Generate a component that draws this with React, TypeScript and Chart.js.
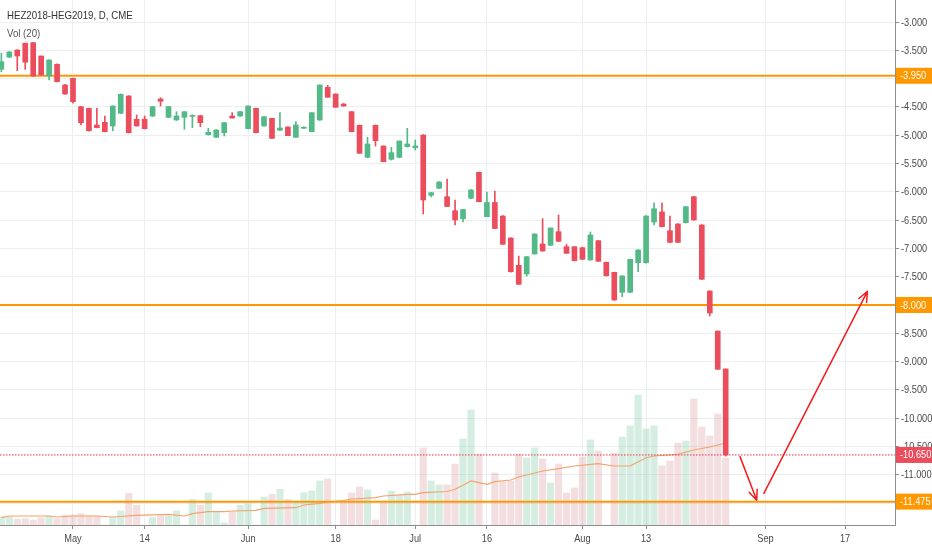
import { useEffect, useRef } from "react";
import { Chart, registerables, type ChartConfiguration, type Plugin } from "chart.js";

Chart.register(...registerables);

// bar index 0 = 1 May 2018, the first bar on screen (-9) is 18 Apr
const firstBar = -9;

const opens = [
  -3.836, -3.62, -3.495, -3.376, -3.365, -3.6, -3.954, -3.747, -4.113, -3.995,
  -4.496, -4.525, -4.82, -4.772, -4.837, -4.613, -4.307, -4.719, -4.719, -4.661,
  -4.36, -4.684, -4.731, -4.684, -4.66, -4.655, -4.991, -5.037, -4.956, -4.661,
  -4.661, -4.885, -4.525, -4.837, -4.701, -4.913, -4.855, -5.037, -4.87, -4.938,
  -4.731, -4.154, -4.272, -4.449, -4.585, -4.825, -5.391, -4.825, -5.191, -5.426,
  -5.391, -5.203, -5.221, -4.996, -6.062, -5.938, -6.087, -6.334, -6.477, -6.115,
  -5.656, -6.44, -6.189, -6.428, -6.817, -7.299, -7.453, -7.099, -6.922, -6.945,
  -6.705, -6.97, -6.97, -6.988, -7.205, -6.864, -7.246, -7.423, -7.776, -7.776,
  -7.253, -7.253, -6.534, -6.357, -6.688, -6.569, -6.546, -6.087, -6.587, -7.753,
  -8.46, -9.131,
];
const highs = [
  -3.55, -3.52, -3.49, -3.37, -3.36, -3.6, -3.67, -3.74, -4.1, -3.99,
  -4.49, -4.52, -4.525, -4.661, -4.48, -4.27, -4.3, -4.643, -4.66, -4.49,
  -4.337, -4.49, -4.585, -4.58, -4.64, -4.65, -4.878, -4.9, -4.77, -4.602,
  -4.58, -4.48, -4.52, -4.67, -4.7, -4.602, -4.85, -4.761, -4.85, -4.6,
  -4.11, -4.118, -4.27, -4.44, -4.58, -4.82, -5.037, -4.82, -5.19, -5.214,
  -5.1, -4.878, -5.085, -4.99, -6.01, -5.82, -5.774, -6.145, -6.31, -5.96,
  -5.65, -6.004, -5.986, -6.42, -6.81, -7.135, -7.14, -6.74, -6.475, -6.64,
  -6.41, -6.93, -6.97, -6.98, -6.71, -6.86, -7.24, -7.42, -7.48, -7.19,
  -7.02, -6.42, -6.193, -6.193, -6.428, -6.56, -6.26, -6.08, -6.58, -7.75,
  -8.46, -9.13,
];
const lows = [
  -3.88, -3.63, -3.86, -3.836, -3.96, -3.94, -4.025, -4.06, -4.28, -4.436,
  -4.82, -4.93, -4.87, -4.94, -4.92, -4.62, -4.96, -4.84, -4.89, -4.67,
  -4.484, -4.69, -4.74, -4.896, -4.867, -4.85, -5.0, -5.04, -5.014, -4.7,
  -4.67, -4.89, -4.96, -4.84, -5.06, -4.92, -5.01, -5.04, -4.88, -4.94,
  -4.74, -4.33, -4.51, -4.49, -4.94, -5.32, -5.4, -5.191, -5.47, -5.44,
  -5.4, -5.21, -5.262, -6.392, -6.09, -5.94, -6.26, -6.587, -6.534, -6.12,
  -6.18, -6.44, -6.65, -6.93, -7.42, -7.64, -7.49, -7.1, -7.05, -6.95,
  -6.88, -7.09, -7.22, -7.2, -7.21, -7.23, -7.49, -7.92, -7.854, -7.78,
  -7.412, -7.26, -6.587, -6.62, -6.9, -6.9, -6.55, -6.5, -7.55, -8.195,
  -9.14, -10.67,
];
const closes = [
  -3.7, -3.53, -3.6, -3.71, -3.954, -3.936, -3.671, -4.055, -4.272, -4.408,
  -4.779, -4.92, -4.867, -4.938, -4.484, -4.277, -4.956, -4.837, -4.885, -4.496,
  -4.401, -4.496, -4.661, -4.585, -4.65, -4.779, -4.949, -4.908, -4.779, -4.696,
  -4.585, -4.484, -4.956, -4.673, -5.055, -4.873, -5.009, -4.82, -4.86, -4.602,
  -4.113, -4.33, -4.507, -4.484, -4.938, -5.32, -5.155, -5.097, -5.468, -5.309,
  -5.102, -5.155, -5.191, -6.145, -6.016, -5.827, -6.26, -6.498, -6.313, -5.968,
  -6.175, -6.189, -6.649, -6.928, -7.412, -7.635, -7.147, -6.746, -7.046, -6.64,
  -6.875, -7.087, -7.218, -7.193, -6.764, -7.228, -7.483, -7.912, -7.488, -7.193,
  -7.029, -6.428, -6.299, -6.617, -6.893, -6.893, -6.263, -6.498, -7.546, -8.142,
  -9.137, -10.65,
];
const volumes = [
  8, 8, 5.7, 6.3, 5, 7.3, 9, 6.3, 9.7, 10,
  11.3, 9, 9, 0, 7.3, 14, 31.7, 19.7, 0, 7.3,
  9, 9, 14, 0, 25.7, 19.7, 32, 13.3, 2.3, 13.3,
  19.7, 21.3, 0, 28, 30.7, 35.7, 25.7, 24, 32.3, 34,
  44, 46, 0, 22, 32, 38, 35, 5, 22, 34,
  30, 33, 0, 77, 44, 40, 40, 61, 86, 115,
  71, 0, 52, 43, 44, 71, 67, 77, 66, 42,
  61, 32, 37, 68, 85, 74, 0, 72, 88, 99,
  130, 96, 99, 59, 64, 82, 84, 126, 98, 89,
  111, 67,
];

// Vol (20) moving average at these bars
const volMaIdx = [
  -9, -8, -3, -2, 0, 3, 5, 8, 12, 14, 15, 17, 19, 20, 23, 24, 28, 29, 31, 32, 34, 35, 38, 39,
  42, 43, 44, 47, 48, 49, 50, 52, 53, 55, 56, 57, 59, 61, 63, 66, 68, 70, 72, 73, 76, 78, 80, 82,
];
const volMa = [
  7.3, 9, 9, 8, 9, 9, 8, 9.7, 10.7, 9, 11.3, 13.3, 13.3, 14, 14.7, 16.7, 17.3, 20, 21.7, 23, 24.5, 26, 27.3, 29,
  30.7, 30.7, 32.3, 33.5, 35.7, 39.7, 44, 40.7, 43.3, 45, 48, 50, 54, 56.3, 59, 61.3, 59, 59, 67.3, 69, 70.7, 75, 78, 82,
];

const xTickIdx = [0, 9, 22, 33, 43, 52, 64, 72, 87, 97];
const xTickLabels = ["May", "14", "Jun", "18", "Jul", "16", "Aug", "13", "Sep", "17"];
const yTickValues = [-3, -3.5, -4, -4.5, -5, -5.5, -6, -6.5, -7, -7.5, -8, -8.5, -9, -9.5, -10, -10.5, -11, -11.5];

const levels = [-3.95, -8.0, -11.475];

const arrowFromIdx = [83.8, 86.8];
const arrowFromPrice = [-10.68, -11.33];
const arrowToIdx = [85.9, 99.8];
const arrowToPrice = [-11.45, -7.76];

const X_MIN = -9.17;
const X_MAX = 103.27;
const Y_MIN = -11.888;
const Y_MAX = -2.611;

const UP = "#53b987";
const DOWN = "#eb4d5c";
const VOL_UP = "rgba(83,185,135,0.24)";
const VOL_DOWN = "rgba(200,110,110,0.22)";
const ORANGE = "#ff9800";
const MA = "#f2a46e";
const GRID = "#eceef2";
const AXIS = "#8f8f8f";
const TEXT = "#4a4a4a";
const FONT = "'Liberation Sans', Arial, sans-serif";
// the screenshot's text is narrower than the installed fonts
const SQUISH = 0.84;

function squishText(ctx: CanvasRenderingContext2D, text: string, x: number, y: number, align: CanvasTextAlign) {
  ctx.save();
  ctx.translate(x, y);
  ctx.scale(SQUISH, 1);
  ctx.textAlign = align;
  ctx.fillText(text, 0, 0);
  ctx.restore();
}

const overlay: Plugin = {
  id: "overlay",
  afterDatasetsDraw(chart) {
    const { ctx, scales } = chart;
    const xs = scales.x;
    const ys = scales.y;
    ctx.save();
    ctx.strokeStyle = "#f21c1c";
    ctx.lineWidth = 1.5;
    ctx.lineCap = "round";
    arrowFromIdx.forEach((_, i) => {
      const x0 = xs.getPixelForValue(arrowFromIdx[i]);
      const y0 = ys.getPixelForValue(arrowFromPrice[i]);
      const x1 = xs.getPixelForValue(arrowToIdx[i]);
      const y1 = ys.getPixelForValue(arrowToPrice[i]);
      const a = Math.atan2(y1 - y0, x1 - x0);
      ctx.beginPath();
      ctx.moveTo(x0, y0);
      ctx.lineTo(x1, y1);
      for (const d of [-0.4, 0.4]) {
        ctx.moveTo(x1, y1);
        ctx.lineTo(x1 - 11 * Math.cos(a + d), y1 - 11 * Math.sin(a + d));
      }
      ctx.stroke();
    });
    ctx.restore();
  },
  afterDraw(chart) {
    const { ctx, chartArea, scales } = chart;
    const xs = scales.x;
    const ys = scales.y;
    ctx.save();
    ctx.font = `11px ${FONT}`;
    ctx.textBaseline = "middle";

    // axis labels
    ctx.fillStyle = TEXT;
    ys.ticks.forEach((t) => {
      squishText(ctx, t.value.toFixed(3), chartArea.right + 6, ys.getPixelForValue(t.value) + 0.5, "left");
    });
    xs.ticks.forEach((t) => {
      const label = xTickLabels[xTickIdx.indexOf(t.value)] ?? "";
      squishText(ctx, label, xs.getPixelForValue(t.value), chartArea.bottom + 14, "center");
    });

    // price tags
    const tags = [
      ...levels.map((v) => ({ v, c: ORANGE })),
      { v: closes[closes.length - 1], c: DOWN },
    ];
    tags.forEach((t) => {
      const py = ys.getPixelForValue(t.v);
      ctx.fillStyle = t.c;
      ctx.fillRect(chartArea.right + 1, py - 8, chart.width - chartArea.right - 1, 16);
      ctx.fillStyle = "#ffffff";
      squishText(ctx, t.v.toFixed(3), chartArea.right + 5, py + 0.5, "left");
    });
    ctx.restore();
  },
};

export default function App() {
  const canvasRef = useRef<HTMLCanvasElement>(null);
  const chartRef = useRef<Chart | null>(null);

  useEffect(() => {
    const canvas = canvasRef.current;
    if (!canvas) return;
    chartRef.current?.destroy();

    const bars = opens.map((_, i) => firstBar + i);
    const candleColors = closes.map((c, i) => (c >= opens[i] ? UP : DOWN));
    const volColors = closes.map((c, i) => (c >= opens[i] ? VOL_UP : VOL_DOWN));
    const last = closes[closes.length - 1];

    const config: ChartConfiguration = {
      type: "bar",
      data: {
        datasets: [
          {
            type: "bar",
            label: "body",
            data: bars.map((x, i) => ({ x, y: [opens[i], closes[i]] })) as any,
            backgroundColor: candleColors,
            barThickness: 5,
            minBarLength: 1,
            grouped: false,
            order: 1,
          },
          {
            type: "bar",
            label: "wick",
            data: bars.map((x, i) => ({ x, y: [lows[i], highs[i]] })) as any,
            backgroundColor: candleColors,
            barThickness: 1,
            grouped: false,
            order: 2,
          },
          ...levels.map((v) => ({
            type: "line" as const,
            label: "level",
            data: [{ x: X_MIN, y: v }, { x: X_MAX, y: v }],
            borderColor: ORANGE,
            borderWidth: 2,
            pointRadius: 0,
            order: 3,
          })),
          {
            type: "line",
            label: "last",
            data: [{ x: X_MIN, y: last }, { x: X_MAX, y: last }],
            borderColor: "#e3304a",
            borderWidth: 1,
            borderDash: [1.5, 1.5],
            pointRadius: 0,
            order: 4,
          },
          {
            type: "line",
            label: "Vol MA",
            yAxisID: "yv",
            data: volMaIdx.map((x, i) => ({ x, y: volMa[i] })),
            borderColor: MA,
            borderWidth: 1.2,
            pointRadius: 0,
            order: 5,
          },
          {
            type: "bar",
            label: "Vol",
            yAxisID: "yv",
            data: bars.map((x, i) => ({ x, y: volumes[i] })) as any,
            backgroundColor: volColors,
            barThickness: 6.5,
            grouped: false,
            order: 6,
          },
        ],
      },
      options: {
        responsive: false,
        animation: false,
        events: [],
        layout: { padding: 0 },
        plugins: { legend: { display: false }, tooltip: { enabled: false } },
        scales: {
          x: {
            type: "linear",
            min: X_MIN,
            max: X_MAX,
            offset: false,
            afterBuildTicks: (s) => {
              s.ticks = xTickIdx.map((value) => ({ value }));
            },
            afterFit: (s) => {
              s.height = 25;
              s.paddingLeft = 0;
              s.paddingRight = 0;
            },
            ticks: { display: false },
            grid: { offset: false, color: GRID, tickColor: AXIS, tickLength: 4 },
            border: { color: AXIS },
          },
          y: {
            type: "linear",
            position: "right",
            min: Y_MIN,
            max: Y_MAX,
            afterBuildTicks: (s) => {
              s.ticks = yTickValues.map((value) => ({ value }));
            },
            afterFit: (s) => {
              s.width = 37;
              s.paddingTop = 0;
              s.paddingBottom = 0;
            },
            ticks: { display: false },
            grid: { color: GRID, tickColor: AXIS, tickLength: 4 },
            border: { color: AXIS },
          },
          yv: {
            type: "linear",
            display: false,
            min: 0,
            max: 525,
          },
        },
      },
      plugins: [overlay],
    };

    chartRef.current = new Chart(canvas, config);
    return () => chartRef.current?.destroy();
  }, []);

  return (
    <div style={{ position: "fixed", left: 0, top: 0, width: 932, height: 550, background: "#fff" }}>
      <canvas ref={canvasRef} width={932} height={550} style={{ display: "block" }} />
      <div
        style={{
          position: "absolute",
          left: 7,
          top: 6,
          font: `11.5px ${FONT}`,
          lineHeight: "18px",
          color: "#333",
          transform: `scaleX(${SQUISH})`,
          transformOrigin: "left top",
          whiteSpace: "nowrap",
        }}
      >
        <div>HEZ2018-HEG2019, D, CME</div>
        <div style={{ color: "#555" }}>Vol (20)</div>
      </div>
    </div>
  );
}
